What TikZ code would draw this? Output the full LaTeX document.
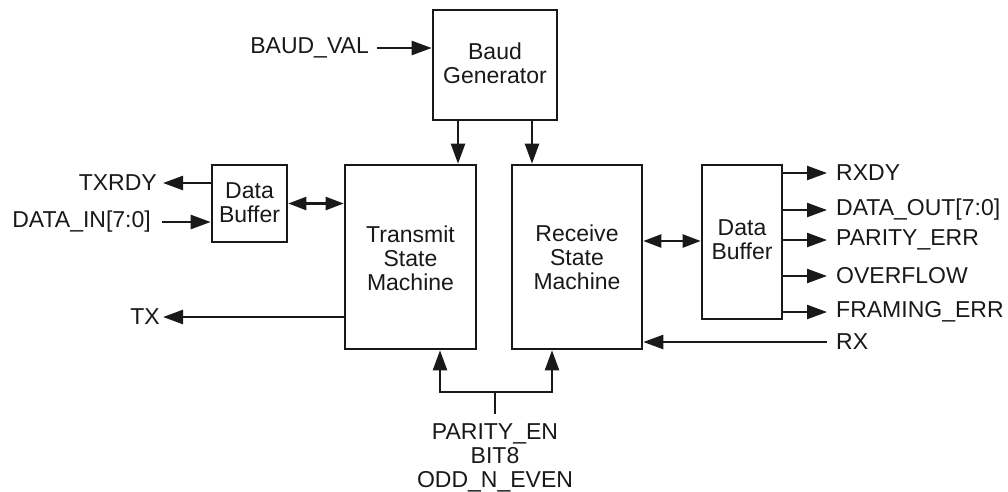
\documentclass[tikz,border=0pt]{standalone}
\usepackage{fontspec}
\setmainfont{Liberation Sans}
\usetikzlibrary{arrows.meta}
\begin{document}
\begin{tikzpicture}[x=1pt,y=-1pt,
  box/.style={draw=black!90, line width=2.6pt, inner sep=0pt},
  lbl/.style={inner sep=0pt, text=black!90, font=\fontsize{23}{24}\selectfont, align=center},
  arr/.style={-{Triangle[length=20pt,width=14pt]}, line width=2.4pt, draw=black!90},
  darr/.style={{Triangle[length=18pt,width=13pt]}-{Triangle[length=18pt,width=13pt]}, line width=2.4pt, draw=black!90},
  wire/.style={line width=2.4pt, draw=black!90}]
\useasboundingbox (0,0) rectangle (1008,491);
% boxes
\node[box, minimum width=124pt, minimum height=110pt] (baud) at (495,65) {};
\node[box, minimum width=131pt, minimum height=184pt] (tsm) at (410.5,257) {};
\node[box, minimum width=130pt, minimum height=184pt] (rsm) at (577,257) {};
\node[box, minimum width=75pt, minimum height=77pt] (lbuf) at (249.5,203.5) {};
\node[box, minimum width=80pt, minimum height=154pt] (rbuf) at (742,242) {};
% box texts
\node[lbl] (baudt) at (495,63) {Baud\\Generator};
\node[lbl] (tsmt) at (410.5,258) {Transmit\\State\\Machine};
\node[lbl] (rsmt) at (577,257) {Receive\\State\\Machine};
\node[lbl] (lbuft) at (249.5,203) {Data\\Buffer};
\node[lbl] (rbuft) at (742,240) {Data\\Buffer};
% BAUD_VAL
\coordinate (bvs) at (377,48);
\node[lbl, anchor=east] (bvt) at (369,48) {BAUD\_VAL};
\draw[arr] (bvs) -- (bvs -| baud.west);
% baud to state machines
\coordinate (b1) at (458,0);
\coordinate (b2) at (532,0);
\draw[arr] (b1 |- baud.south) -- (b1 |- tsm.north);
\draw[arr] (b2 |- baud.south) -- (b2 |- rsm.north);
% left buffer
\coordinate (txr) at (163,183);
\node[lbl, anchor=east] (txrt) at (157,183) {TXRDY};
\draw[arr] (txr -| lbuf.west) -- (txr);
\coordinate (din) at (162,222);
\node[lbl, anchor=east] (dint) at (151,222) {DATA\_IN[7:0]};
\draw[arr] (din) -- (din -| lbuf.west);
\draw[darr] (lbuf.east) -- (lbuf.east -| tsm.west);
% TX
\coordinate (tx) at (163,317);
\node[lbl, anchor=east] (txt) at (160,317) {TX};
\draw[arr] (tx -| tsm.west) -- (tx);
% receive side
\coordinate (rb) at (0,241);
\draw[darr] (rb -| rsm.east) -- (rb -| rbuf.west);
\foreach \y/\t [count=\i] in {173/RXDY, 210/DATA\_OUT[7:0], 240/PARITY\_ERR, 276/OVERFLOW, 312/FRAMING\_ERR}{
  \coordinate (o\i) at (827,\y);
  \draw[arr] (o\i -| rbuf.east) -- (o\i);
  \node[lbl, anchor=west] (ot\i) at (836,\y) {\t};
}
\coordinate (rx) at (827,342);
\node[lbl, anchor=west] (rxt) at (836,342) {RX};
\draw[arr] (rx) -- (rx -| rsm.east);
% bottom
\coordinate (bj) at (495,392);
\coordinate (bs) at (495,414);
\coordinate (bl) at (440,392);
\coordinate (br) at (552,392);
\draw[wire] (bs) -- (bj);
\draw[arr, line join=miter] (bj) -- (bl) -- (bl |- tsm.south);
\draw[arr, line join=miter] (bj) -- (br) -- (br |- rsm.south);
\node[lbl, anchor=base] (p1) at (495,439) {PARITY\_EN};
\node[lbl, anchor=base] (p2) at (495,463) {BIT8};
\node[lbl, anchor=base] (p3) at (495,487) {ODD\_N\_EVEN};
\end{tikzpicture}
\end{document}
